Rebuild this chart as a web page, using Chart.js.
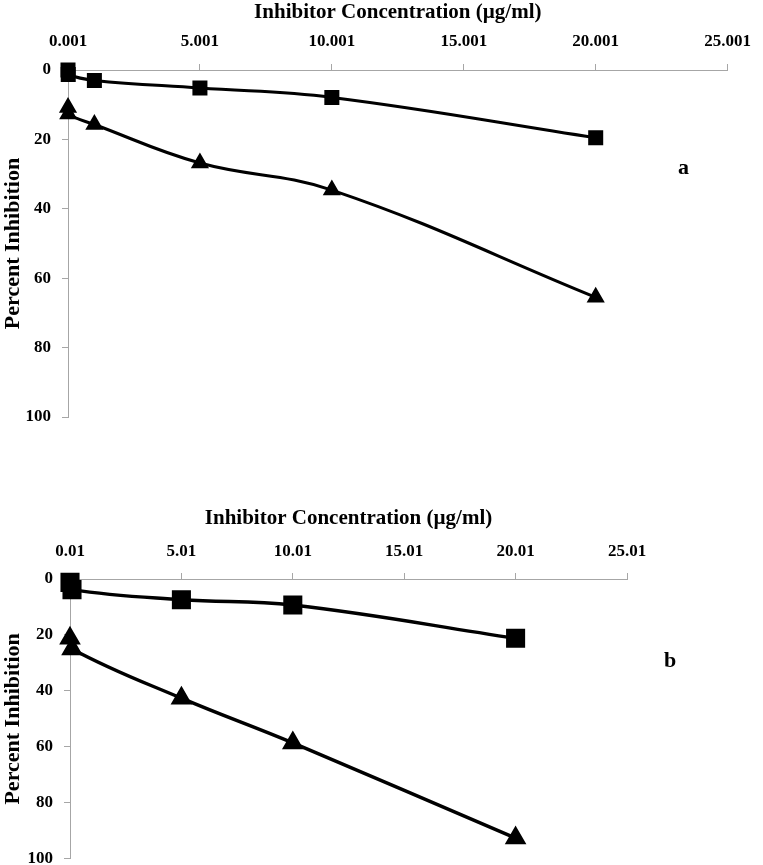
<!DOCTYPE html>
<html>
<head>
<meta charset="utf-8">
<script src="https://cdn.jsdelivr.net/npm/chart.js@4"></script>
<style>
  html, body { margin: 0; padding: 0; background: #fff; overflow: hidden; }
  body { width: 763px; height: 865px; position: relative; }
  canvas { position: absolute; left: 0; }
  #chartA { top: 0; }
  #chartB { top: 506px; }
  .tag { position: absolute; font: bold 22px "Liberation Serif", "Times New Roman", serif; color: #000; }
</style>
</head>
<body>
<canvas id="chartA" width="763" height="440"></canvas>
<canvas id="chartB" width="763" height="374"></canvas>
<div class="tag" style="left:678px; top:154px;">a</div>
<div class="tag" style="left:664px; top:647px;">b</div>
<script>
// panel a
const concA = [0.001, 0.01, 1.001, 5.001, 10.001, 20.001];
const squaresA = [0, 1.3, 3.0, 5.2, 7.9, 19.5];
const trianglesA = [10.8, 12.7, 15.7, 26.8, 34.6, 65.5];
const xTicksA = ['0.001', '5.001', '10.001', '15.001', '20.001', '25.001'];

// panel b
const concB = [0.01, 0.1, 5.01, 10.01, 20.01];
const squaresB = [1.2, 3.8, 7.4, 9.3, 21.2];
const trianglesB = [21.2, 25, 42.6, 58.6, 92.6];
const xTicksB = ['0.01', '5.01', '10.01', '15.01', '20.01', '25.01'];

const yTicks = [0, 20, 40, 60, 80, 100];

const FONT = '"Liberation Serif", "Times New Roman", serif';
const AXIS_GREY = '#a6a6a6';

function pairs(xs, ys) {
    return xs.map((x, i) => ({ x: x, y: ys[i] }));
}

function makeChart(id, conc, squares, triangles, xTicks, opt) {
    const ctx = document.getElementById(id).getContext('2d');
    return new Chart(ctx, {
        type: 'line',
        data: {
            datasets: [{
                label: 'squares',
                data: pairs(conc, squares),
                borderColor: '#000',
                backgroundColor: '#000',
                borderWidth: opt.lineWidth,
                pointStyle: 'rect',
                pointRadius: opt.rectRadius,
                tension: 0.4,
                clip: false,
            }, {
                label: 'triangles',
                data: pairs(conc, triangles),
                borderColor: '#000',
                backgroundColor: '#000',
                borderWidth: opt.lineWidth,
                pointStyle: 'triangle',
                pointRadius: opt.triRadius,
                tension: 0.4,
                clip: false,
            }]
        },
        options: {
            responsive: false,
            devicePixelRatio: 1,
            animation: false,
            layout: {
                padding: { top: 0, left: 0, right: opt.padRight, bottom: opt.padBottom }
            },
            plugins: {
                legend: { display: false },
                tooltip: { enabled: false }
            },
            scales: {
                x: {
                    type: 'linear',
                    position: 'top',
                    min: parseFloat(xTicks[0]),
                    max: parseFloat(xTicks[xTicks.length - 1]),
                    afterBuildTicks: function(scale) {
                        scale.ticks = xTicks.map(t => ({ value: parseFloat(t) }));
                    },
                    afterFit: function(scale) {
                        scale.height = opt.xHeight;
                    },
                    ticks: {
                        color: '#000',
                        padding: opt.xTickPad,
                        maxRotation: 0,
                        font: { family: FONT, size: 17, weight: 'bold' },
                        callback: function(value, index) {
                            return xTicks[index];
                        }
                    },
                    grid: { drawOnChartArea: false, tickLength: 6, color: AXIS_GREY },
                    border: { color: AXIS_GREY, width: 1 },
                    title: {
                        display: true,
                        text: 'Inhibitor Concentration (µg/ml)',
                        color: '#000',
                        padding: { top: 0, bottom: 0 },
                        font: { family: FONT, size: 21, weight: 'bold' }
                    }
                },
                y: {
                    type: 'linear',
                    reverse: true,
                    min: 0,
                    max: 100,
                    afterBuildTicks: function(scale) {
                        scale.ticks = yTicks.map(v => ({ value: v }));
                    },
                    afterFit: function(scale) {
                        scale.width = opt.yWidth;
                    },
                    ticks: {
                        color: '#000',
                        padding: 11,
                        font: { family: FONT, size: 17, weight: 'bold' }
                    },
                    grid: { drawOnChartArea: false, tickLength: 6, color: AXIS_GREY },
                    border: { color: AXIS_GREY, width: 1 },
                    title: {
                        display: true,
                        text: 'Percent Inhibition',
                        color: '#000',
                        padding: { top: 0, bottom: 0 },
                        font: { family: FONT, size: 22, weight: 'bold' }
                    }
                }
            }
        }
    });
}

makeChart('chartA', concA, squaresA, trianglesA, xTicksA, {
    lineWidth: 3, rectRadius: 8.5, triRadius: 7.5, xTickPad: 12,
    padRight: 27, padBottom: 23, xHeight: 70, yWidth: 68
});

makeChart('chartB', concB, squaresB, trianglesB, xTicksB, {
    lineWidth: 3.5, rectRadius: 11, triRadius: 9, xTickPad: 11,
    padRight: 136, padBottom: 16, xHeight: 73, yWidth: 70
});
</script>
</body>
</html>
